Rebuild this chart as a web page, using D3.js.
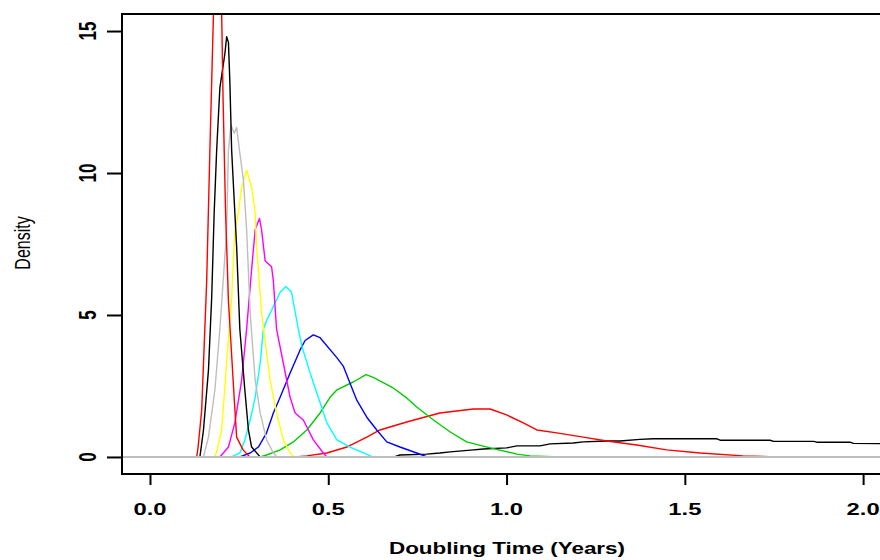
<!DOCTYPE html>
<html>
<head>
<meta charset="utf-8">
<script src="https://cdn.jsdelivr.net/npm/d3@7"></script>
<style>
  body { margin: 0; background: #fff; }
  svg text { font-family: "Liberation Sans", Arial, Helvetica, sans-serif; }
</style>
</head>
<body>
<svg width="880" height="560"></svg>
<script>
// density curves: [doubling time, density]
const black1 = [[0.60,0],[0.687,0.01],[0.701,0.07],[0.776,0.1],[0.813,0.14],[0.842,0.18],[0.907,0.25],[0.935,0.28],[1.0,0.32],[1.029,0.39],[1.094,0.39],[1.122,0.46],[1.187,0.49],[1.215,0.53],[1.281,0.56],[1.318,0.56],[1.374,0.62],[1.412,0.64],[1.590,0.64],[1.599,0.59],[1.739,0.59],[1.749,0.55],[1.861,0.55],[1.870,0.52],[1.963,0.52],[1.973,0.48],[2.1,0.46]];
const red2 = [[0.407,0],[0.440,0.04],[0.496,0.14],[0.552,0.35],[0.608,0.7],[0.645,0.95],[0.720,1.23],[0.813,1.55],[0.907,1.69],[0.954,1.69],[1.0,1.48],[1.047,1.2],[1.085,0.95],[1.141,0.85],[1.215,0.7],[1.281,0.56],[1.365,0.42],[1.449,0.25],[1.543,0.14],[1.663,0.04],[1.762,0]];
const green3 = [[0.309,0],[0.327,0.07],[0.365,0.25],[0.402,0.53],[0.440,0.95],[0.477,1.55],[0.505,2.1],[0.524,2.36],[0.570,2.64],[0.606,2.9],[0.626,2.8],[0.682,2.43],[0.720,2.08],[0.748,1.76],[0.795,1.3],[0.842,0.88],[0.888,0.53],[0.954,0.32],[1.029,0.1],[1.066,0.04],[1.150,0]];
const blue4 = [[0.252,0],[0.281,0.14],[0.304,0.35],[0.327,0.85],[0.346,1.55],[0.365,2.1],[0.393,2.96],[0.421,3.77],[0.435,4.1],[0.458,4.3],[0.477,4.2],[0.524,3.5],[0.542,3.2],[0.561,2.6],[0.580,2.0],[0.608,1.4],[0.636,0.95],[0.664,0.53],[0.701,0.35],[0.748,0.14],[0.777,0]];
const cyan5 = [[0.229,0],[0.252,0.14],[0.266,0.6],[0.281,1.3],[0.295,2.1],[0.309,3.3],[0.318,4.5],[0.327,4.8],[0.346,5.3],[0.365,5.8],[0.381,6.0],[0.397,5.8],[0.416,4.5],[0.426,3.9],[0.449,2.96],[0.468,2.25],[0.496,1.2],[0.524,0.6],[0.561,0.35],[0.612,0.07],[0.623,0]];
const magenta6 = [[0.196,0],[0.220,0.35],[0.238,1.2],[0.257,2.7],[0.271,4.5],[0.285,6.6],[0.295,8.0],[0.307,8.4],[0.313,8.0],[0.323,6.9],[0.341,6.7],[0.346,6.2],[0.355,4.5],[0.374,3.3],[0.393,2.1],[0.407,1.55],[0.430,1.3],[0.458,0.6],[0.486,0.14],[0.496,0]];
const yellow7 = [[0.180,0],[0.187,0.18],[0.201,0.95],[0.215,3.3],[0.229,5.6],[0.238,8.0],[0.248,8.6],[0.257,9.5],[0.271,10.1],[0.285,9.5],[0.295,8.6],[0.299,7.4],[0.313,5.07],[0.337,2.7],[0.355,1.55],[0.374,0.6],[0.393,0.14],[0.404,0]];
const gray8 = [[0.150,0],[0.164,0.7],[0.182,2.36],[0.196,4.5],[0.215,8.0],[0.220,10.8],[0.227,11.7],[0.236,11.4],[0.243,11.6],[0.252,10.7],[0.262,9.75],[0.271,8.0],[0.281,5.07],[0.295,2.7],[0.309,1.55],[0.327,0.6],[0.346,0.14],[0.356,0]];
const black9 = [[0.140,0],[0.150,0.95],[0.164,3.06],[0.173,5.6],[0.180,8.6],[0.187,10.8],[0.196,13.0],[0.210,14.2],[0.215,14.8],[0.220,14.6],[0.224,13.2],[0.229,10.8],[0.238,8.6],[0.243,7.4],[0.252,4.5],[0.266,2.36],[0.276,0.95],[0.285,0.35],[0.309,0]];
const red10 = [[0.131,0],[0.135,0.35],[0.145,1.65],[0.159,6.2],[0.168,10.8],[0.178,15.6],[0.190,18.5],[0.196,18.5],[0.201,15.6],[0.205,12.6],[0.212,8.6],[0.220,5.5],[0.236,2.1],[0.243,0.7],[0.261,0.25],[0.280,0]];

const series = [black1, red2, green3, blue4, cyan5, magenta6, yellow7, gray8, black9, red10];
const colors = ["#000000","#FF0000","#00CD00","#0000FF","#00FFFF","#FF00FF","#FFFF00","#BEBEBE","#000000","#FF0000"];

const xTicks = [0, 0.5, 1, 1.5, 2];
const yTicks = [0, 5, 10, 15];
const xTitle = "Doubling Time (Years)";
const yTitle = "Density";

// the picture is stretched sideways, so text gets the same squeeze
const stretch = 1.4;

const plotL = 122, plotT = 14, plotR = 892, plotB = 474;

const x = d3.scaleLinear().domain([-0.0785, 2.081]).range([plotL, plotR]);
const y = d3.scaleLinear().domain([-0.6, 15.6]).range([plotB, plotT]);

const svg = d3.select("svg");

svg.append("clipPath").attr("id", "plotclip")
  .append("rect")
  .attr("x", plotL).attr("y", plotT)
  .attr("width", plotR - plotL).attr("height", plotB - plotT);

const line = d3.line()
  .x(d => x(d[0]))
  .y(d => y(d[1]));

const curves = svg.append("g").attr("clip-path", "url(#plotclip)");

curves.selectAll("path.dens")
  .data(series)
  .join("path")
  .attr("class", "dens")
  .attr("d", line)
  .attr("fill", "none")
  .attr("stroke", (d, i) => colors[i])
  .attr("stroke-width", 1.4)
  .attr("stroke-linejoin", "round");

// zero line in grey across the whole plot
curves.append("path")
  .attr("d", line([[x.domain()[0], 0], [x.domain()[1], 0]]))
  .attr("stroke", "#BEBEBE")
  .attr("stroke-width", 2)
  .attr("fill", "none");

// box
svg.append("rect")
  .attr("x", plotL).attr("y", plotT)
  .attr("width", plotR - plotL).attr("height", plotB - plotT)
  .attr("fill", "none")
  .attr("stroke", "black")
  .attr("stroke-width", 2);

// x axis ticks
const xAxis = svg.append("g")
  .attr("transform", `translate(0,${plotB})`)
  .call(d3.axisBottom(x).tickValues(xTicks).tickSize(11).tickFormat(""));
xAxis.select(".domain").remove();
xAxis.selectAll("line").attr("stroke-width", 2);

svg.selectAll("text.xlab")
  .data(xTicks)
  .join("text")
  .attr("class", "xlab")
  .attr("transform", d => `translate(${x(d)},515) scale(${stretch},1)`)
  .attr("text-anchor", "middle")
  .attr("font-size", 17)
  .attr("font-weight", "bold")
  .text(d => d3.format(".1f")(d));

// y axis ticks
const yAxis = svg.append("g")
  .attr("transform", `translate(${plotL},0)`)
  .call(d3.axisLeft(y).tickValues(yTicks).tickSize(15).tickFormat(""));
yAxis.select(".domain").remove();
yAxis.selectAll("line").attr("stroke-width", 2);

svg.selectAll("text.ylab")
  .data(yTicks)
  .join("text")
  .attr("class", "ylab")
  .attr("transform", d => `translate(96,${y(d)}) scale(${stretch},1) rotate(-90)`)
  .attr("text-anchor", "middle")
  .attr("font-size", 17)
  .attr("font-weight", "bold")
  .text(d => d);

// titles
svg.append("text")
  .attr("transform", `translate(${(plotL + plotR) / 2},554) scale(${stretch},1)`)
  .attr("text-anchor", "middle")
  .attr("font-size", 16)
  .attr("font-weight", "bold")
  .text(xTitle);

svg.append("text")
  .attr("transform", `translate(30,243) scale(${stretch},1) rotate(-90)`)
  .attr("text-anchor", "middle")
  .attr("font-size", 16)
  .text(yTitle);
</script>
</body>
</html>
